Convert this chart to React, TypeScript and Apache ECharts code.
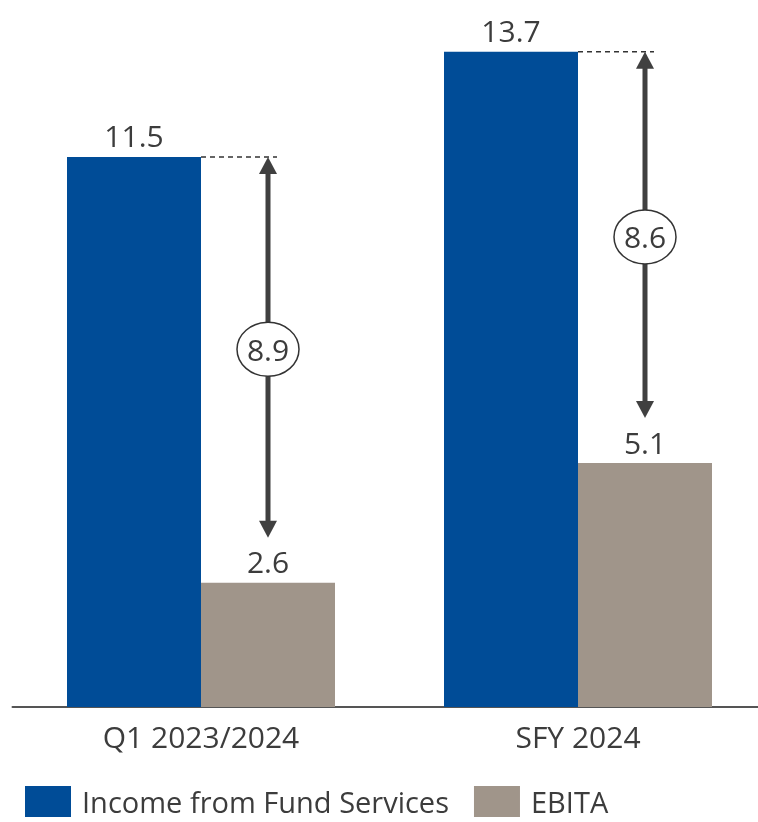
import React, { useEffect, useRef } from "react";
import * as echarts from "echarts";

const categories = ["Q1 2023/2024", "SFY 2024"];
const incomeValues = [11.5, 13.7];
const ebitaValues = [2.6, 5.1];
const differenceValues = [8.9, 8.6];
const seriesNames = ["Income from Fund Services", "EBITA"];

const BLUE = "#004C97";
const GREY = "#A0958A";
const TEXT = "#3c3c3c";
const DARK = "#404040";
const FONT = "'Open Sans', 'Noto Sans', sans-serif";
const BAR_W = 134;

export default function App() {
  const ref = useRef<HTMLDivElement>(null);
  useEffect(() => {
    if (!ref.current) return;
    const chart = echarts.init(ref.current, undefined, { renderer: "svg" });
    const arrowData = categories.map((_, i) => [i, incomeValues[i], ebitaValues[i], differenceValues[i]]);
    chart.setOption({
      animation: false,
      textStyle: { fontFamily: FONT },
      grid: {
        left: 12.5,
        width: 754,
        top: 13.5,
        bottom: 115,
        containLabel: false,
        outerBoundsMode: "none",
      },
      legend: {
        left: 25,
        top: 786,
        padding: 0,
        itemWidth: 46,
        itemHeight: 31,
        itemGap: 25,
        icon: "rect",
        data: seriesNames,
        textStyle: {
          fontSize: 29,
          lineHeight: 28,
          color: TEXT,
          fontFamily: FONT,
          padding: [0, 0, 0, 6],
        },
      },
      xAxis: {
        type: "category",
        data: categories,
        axisLine: { show: true, lineStyle: { color: "#555", width: 2 } },
        axisTick: { show: false },
        axisLabel: { fontSize: 30, color: TEXT, margin: 14, fontFamily: FONT },
      },
      yAxis: {
        type: "value",
        min: 0,
        max: 14.5,
        show: false,
        splitLine: { show: false },
      },
      series: [
        {
          name: seriesNames[0],
          type: "bar",
          data: incomeValues,
          barWidth: BAR_W,
          barGap: "0%",
          itemStyle: { color: BLUE },
          label: {
            show: true,
            position: "top",
            distance: 6,
            fontSize: 30,
            color: TEXT,
            fontFamily: FONT,
            formatter: (p: any) => p.value.toFixed(1),
          },
        },
        {
          name: seriesNames[1],
          type: "bar",
          data: ebitaValues,
          barWidth: BAR_W,
          barGap: "0%",
          itemStyle: { color: GREY },
          label: {
            show: true,
            position: "top",
            distance: 6,
            fontSize: 30,
            color: TEXT,
            fontFamily: FONT,
            formatter: (p: any) => p.value.toFixed(1),
          },
        },
        {
          type: "custom",
          data: arrowData,
          encode: { x: 0, y: [1, 2] },
          z: 10,
          silent: true,
          renderItem: (params: any, api: any) => {
            const idx = api.value(0);
            const top = api.coord([idx, api.value(1)]);
            const bot = api.coord([idx, api.value(2)]);
            const cx = top[0];
            const ax = cx + BAR_W / 2;
            const yTop = top[1];
            const yTip = bot[1] - 45;
            const yMid = (yTop + yTip) / 2 + 2;
            const head = 17;
            const hw = 9;
            return {
              type: "group",
              children: [
                {
                  type: "line",
                  shape: { x1: cx, y1: yTop, x2: ax + 9, y2: yTop },
                  style: { stroke: "#333", lineWidth: 1.5, lineDash: [5, 4] },
                },
                {
                  type: "line",
                  shape: { x1: ax, y1: yTop + head - 2, x2: ax, y2: yTip - head + 2 },
                  style: { stroke: DARK, lineWidth: 5 },
                },
                {
                  type: "polygon",
                  shape: { points: [[ax, yTop], [ax - hw, yTop + head], [ax + hw, yTop + head]] },
                  style: { fill: DARK },
                },
                {
                  type: "polygon",
                  shape: { points: [[ax, yTip], [ax - hw, yTip - head], [ax + hw, yTip - head]] },
                  style: { fill: DARK },
                },
                {
                  type: "ellipse",
                  shape: { cx: ax, cy: yMid, rx: 31, ry: 27 },
                  style: { fill: "#fff", stroke: "#333", lineWidth: 1.5 },
                },
                {
                  type: "text",
                  x: ax,
                  y: yMid,
                  style: {
                    text: Number(api.value(3)).toFixed(1),
                    fontSize: 30,
                    fontFamily: FONT,
                    fill: TEXT,
                    align: "center",
                    verticalAlign: "middle",
                  },
                },
              ],
            };
          },
        },
      ],
    });
    return () => chart.dispose();
  }, []);
  return (
    <div
      ref={ref}
      style={{ position: "fixed", left: 0, top: 0, width: 758, height: 822 }}
    />
  );
}
